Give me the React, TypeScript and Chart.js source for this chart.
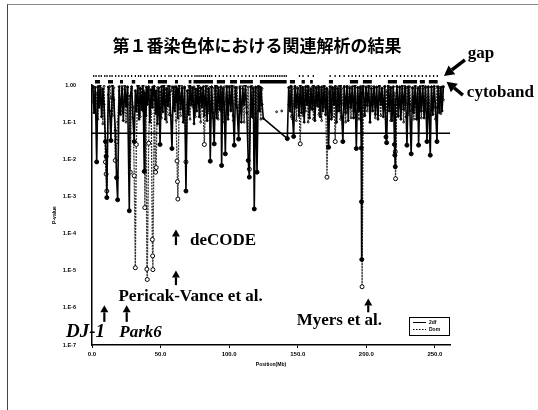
import React, { useEffect, useRef } from "react";
import { Chart, registerables } from "chart.js";

Chart.register(...registerables);

// ---------- text ----------
const titleText = "第１番染色体における関連解析の結果";
const xTitle = "Position(Mb)";
const yTitle = "P-value";
const seriesLabels = ["2df", "Dom"];

// ---------- axes ----------
const xMinMb = 0;
const xMaxMb = 261;
const xTickValues = [0, 50, 100, 150, 200, 250];
const yTickValues = [1e-7, 1e-6, 1e-5, 1e-4, 1e-3, 1e-2, 1e-1, 1];
const yTickLabels = ["1.E-7", "1.E-6", "1.E-5", "1.E-4", "1.E-3", "1.E-2", "1.E-1", "1.00"];
const thresholdP = 0.05;

// ---------- SNP positions (Mb) ----------
const positions = [
  0.6, 1.5, 2.4, 3.4, 4.3, 5.1, 6.0, 7.0, 7.9, 8.8,
  9.8, 10.3, 10.8, 11.9, 12.9, 13.8, 14.9, 15.9, 17.0, 17.9,
  18.7, 19.8, 20.8, 21.9, 22.8, 23.9, 24.8, 25.9, 27.2, 27.9,
  28.9, 29.9, 30.8, 31.6, 32.3, 33.3, 34.3, 35.2, 36.2, 37.2,
  38.1, 38.5, 39.3, 40.0, 40.3, 41.3, 42.2, 43.2, 44.0, 44.2,
  44.4, 45.4, 46.4, 46.8, 47.7, 48.7, 49.6, 50.6, 51.6, 52.5,
  53.5, 54.5, 55.4, 56.4, 57.4, 58.3, 59.3, 60.3, 61.3, 62.0,
  62.3, 62.6, 63.6, 64.6, 65.6, 66.5, 67.5, 68.5, 69.5, 70.5,
  71.5, 72.4, 73.4, 74.4, 75.4, 76.3, 77.3, 78.2, 79.2, 80.2,
  81.1, 81.9, 82.9, 83.9, 84.9, 85.8, 86.2, 87.2, 88.1, 89.1,
  90.0, 91.0, 92.0, 93.0, 94.0, 94.5, 95.4, 96.4, 97.2, 98.2,
  99.2, 100.2, 101.2, 102.1, 103.0, 103.7, 104.7, 105.7, 106.9, 107.9,
  108.9, 109.9, 110.9, 111.9, 112.9, 113.9, 114.7, 115.7, 116.7, 117.6,
  118.3, 119.3, 120.3, 121.3, 122.2, 123.1, 124.0, 124.9,
  134.6, 136.5, 138.3,
  142.4, 143.4, 144.4, 145.3, 146.3, 147.0, 148.0, 149.0, 149.9, 150.9,
  151.8, 152.8, 153.8, 154.7, 155.7, 156.7, 157.6, 158.6, 159.6, 160.6,
  161.5, 162.5, 163.5, 164.5, 165.4, 166.4, 167.4, 168.3, 169.3, 170.3,
  171.3, 172.5, 173.5, 174.5, 175.4, 176.4, 177.3, 178.3, 179.3, 180.2,
  181.2, 182.1, 182.9, 183.9, 184.9, 185.9, 186.8, 187.8, 188.8, 189.8,
  190.7, 191.7, 192.7, 193.7, 194.6, 195.6, 196.3, 196.5, 196.7, 196.9,
  197.8, 198.8, 199.8, 200.7, 201.7, 202.7, 203.7, 204.6, 205.6, 206.6,
  207.5, 208.5, 209.5, 210.5, 211.4, 212.4, 213.4, 214.3, 214.8, 215.8,
  216.8, 217.7, 218.7, 219.7, 220.5, 220.8, 221.1, 221.3, 222.3, 223.3,
  224.3, 225.2, 226.2, 227.2, 228.2, 229.1, 229.6, 230.6, 231.6, 232.7,
  233.7, 234.6, 235.6, 236.6, 237.5, 238.1, 239.1, 240.1, 241.1, 242.1,
  243.1, 244.2, 245.2, 246.6, 247.5, 248.5, 249.5, 250.4, 251.5, 252.3,
  253.3, 254.3, 255.2, 256.2,
];

// ---------- P-values, solid series (2df) ----------
const solidP = [
  0.92, 0.18, 0.85, 0.0085, 0.9, 0.25, 0.97, 0.14, 0.78, 0.3,
  0.03, 0.012, 0.00093, 0.88, 0.2, 0.032, 0.95, 0.4, 0.06, 0.0032,
  0.00081, 0.9, 0.16, 0.82, 0.11, 0.93, 0.27, 0.86, 0.00041, 0.5,
  0.9, 0.13, 0.03, 0.7, 0.2, 0.95, 0.12, 0.8, 0.22, 0.97,
  0.0047, 0.6, 0.15, 0.85, 0.3, 0.9, 0.1, 0.75, 0.25, 0.88,
  0.4, 0.92, 0.17, 0.7, 0.09, 0.84, 0.025, 0.9, 0.19, 0.96,
  0.12, 0.8, 0.28, 0.93, 0.15, 0.0195, 0.87, 0.2, 0.9, 0.35,
  0.8, 0.13, 0.95, 0.23, 0.82, 0.1, 0.88, 0.0014, 0.7, 0.16,
  0.94, 0.3, 0.85, 0.09, 0.78, 0.2, 0.97, 0.14, 0.83, 0.26,
  0.9, 0.15, 0.92, 0.11, 0.8, 0.3, 0.0089, 0.88, 0.18, 0.026,
  0.95, 0.13, 0.85, 0.22, 0.9, 0.0068, 0.8, 0.3, 0.014, 0.93,
  0.12, 0.87, 0.2, 0.96, 0.15, 0.024, 0.85, 0.25, 0.035, 0.9,
  0.1, 0.8, 0.3, 0.95, 0.18, 0.0093, 0.0033, 0.9, 0.14, 0.82,
  0.00046, 0.88, 0.0045, 0.92, 0.2, 0.85, 0.3, 0.126,
  null, null, null,
  0.036, 0.85, 0.2, 0.93, 0.12, 0.041, 0.9, 0.25, 0.8, 0.15,
  0.95, 0.18, 0.86, 0.1, 0.9, 0.3, 0.92, 0.13, 0.78, 0.22,
  0.96, 0.11, 0.84, 0.27, 0.9, 0.14, 0.88, 0.2, 0.94, 0.16,
  0.8, 0.021, 0.9, 0.12, 0.85, 0.3, 0.92, 0.1, 0.8, 0.2,
  0.95, 0.14, 0.03, 0.88, 0.18, 0.93, 0.11, 0.82, 0.25, 0.9,
  0.13, 0.96, 0.0195, 0.85, 0.2, 0.9, 0.02, 0.00072, 0.00002, 0.6,
  0.92, 0.15, 0.85, 0.28, 0.94, 0.1, 0.8, 0.2, 0.9, 0.16,
  0.87, 0.12, 0.95, 0.3, 0.82, 0.14, 0.9, 0.04, 0.028, 0.93,
  0.2, 0.85, 0.11, 0.9, 0.025, 0.0129, 0.0063, 0.3, 0.92, 0.15,
  0.86, 0.12, 0.95, 0.22, 0.88, 0.14, 0.024, 0.9, 0.3, 0.014,
  0.85, 0.18, 0.93, 0.12, 0.8, 0.024, 0.9, 0.2, 0.95, 0.13,
  0.85, 0.03, 0.9, 0.0129, 0.88, 0.16, 0.92, 0.25, 0.03, 0.9,
  0.18, 0.85, 0.2, 0.9,
];

// ---------- P-values, dotted series (Dom) ----------
const dottedP = [
  0.35, 0.88, 0.22, 0.6, 0.12, 0.95, 0.3, 0.8, 0.09, 0.92,
  0.0085, 0.004, 0.0014, 0.55, 0.9, 0.45, 0.15, 0.85, 0.0093, 0.03,
  0.1, 0.7, 0.2, 0.96, 0.18, 0.75, 0.1, 0.9, 0.3, 0.0045,
  0.8, 0.25, 0.0036, 0.000012, 0.025, 0.6, 0.93, 0.14, 0.85, 0.2,
  0.7, 0.0005, 0.9, 0.000011, 0.0000058, 0.027, 0.75, 0.17, 0.000069, 0.000025,
  0.0000107, 0.4, 0.0045, 0.006, 0.85, 0.2, 0.65, 0.13, 0.92, 0.3,
  0.8, 0.1, 0.95, 0.16, 0.7, 0.88, 0.24, 0.9, 0.11, 0.009,
  0.0025, 0.00085, 0.6, 0.15, 0.93, 0.2, 0.8, 0.0085, 0.3, 0.95,
  0.12, 0.85, 0.26, 0.9, 0.14, 0.77, 0.33, 0.92, 0.1, 0.8,
  0.2, 0.025, 0.7, 0.95, 0.18, 0.86, 0.25, 0.9, 0.13, 0.82,
  0.3, 0.93, 0.12, 0.8, 0.2, 0.6, 0.1, 0.9, 0.35, 0.85,
  0.16, 0.94, 0.22, 0.78, 0.11, 0.9, 0.3, 0.86, 0.14, 0.8,
  0.2, 0.95, 0.1, 0.75, 0.25, 0.88, 0.0054, 0.3, 0.92, 0.13,
  0.7, 0.17, 0.85, 0.2, 0.9, 0.12, 0.8, null,
  0.19, null, 0.2,
  null, 0.3, 0.9, 0.14, 0.8, 0.25, 0.93, 0.11, 0.85, 0.3,
  0.026, 0.9, 0.15, 0.75, 0.2, 0.95, 0.1, 0.82, 0.24, 0.9,
  0.12, 0.87, 0.3, 0.93, 0.16, 0.8, 0.11, 0.9, 0.25, 0.85,
  0.0033, 0.7, 0.2, 0.9, 0.14, 0.8, 0.03, 0.88, 0.2, 0.95,
  0.12, 0.8, 0.3, 0.92, 0.1, 0.85, 0.25, 0.9, 0.13, 0.78,
  0.2, 0.94, 0.3, 0.85, 0.12, 0.8, 0.25, 0.7, 0.9, 0.0000037,
  0.6, 0.15, 0.9, 0.2, 0.85, 0.1, 0.92, 0.3, 0.8, 0.13,
  0.88, 0.2, 0.9, 0.15, 0.8, 0.25, 0.93, 0.12, 0.7, 0.3,
  0.9, 0.11, 0.85, 0.2, 0.6, 0.4, 0.016, 0.003, 0.88, 0.14,
  0.9, 0.25, 0.8, 0.1, 0.92, 0.3, 0.85, 0.16, 0.9, 0.2,
  0.8, 0.12, 0.95, 0.25, 0.85, 0.3, 0.9, 0.13, 0.8, 0.2,
  0.92, 0.3, 0.85, 0.15, 0.9, 0.22, 0.8, 0.12, 0.9, 0.3,
  0.85, 0.17, 0.9, 0.4,
];

// ---------- cytoband bars (Mb) ----------
const cytobandStarts = [2.2, 11.7, 20.4, 29.0, 40.8, 48.0, 60.5, 70.5, 74.0, 91.0, 100.6, 107.9, 122.4, 144.3, 152.8, 159.0, 172.7, 188.0, 197.5, 215.7, 226.7, 239.0, 245.6];
const cytobandEnds = [5.8, 15.3, 22.6, 31.5, 44.5, 54.7, 62.7, 72.5, 88.2, 97.0, 105.7, 117.3, 141.9, 148.0, 155.2, 161.0, 175.7, 194.0, 204.0, 222.3, 237.0, 242.7, 252.0];

// ---------- gap marks (Mb) ----------
const gapMarks = [
  0.8, 2.5, 4.6, 6.3, 8.9, 10.5, 12.6, 14.2, 16.8, 19.1, 21.3, 23.8, 26.0, 28.4, 31.2, 33.5, 35.1, 37.9,
  40.2, 42.6, 45.0, 47.3, 50.1, 52.8, 55.6, 57.2, 59.9, 62.4, 64.8, 67.5, 69.7, 72.3, 74.6, 76.1, 77.6,
  79.1, 80.7, 82.2, 83.8, 85.3, 86.9, 89.6, 92.4, 95.2, 97.8, 100.5, 103.1, 106.2, 108.9, 111.7, 114.3,
  116.9, 119.4, 121.8, 123.5, 125.3, 126.9, 128.5, 130.1, 131.7, 133.3, 134.9, 136.5, 138.1, 139.7, 141.2,
  150.8, 153.4, 157.2, 160.9, 173.2, 176.8, 180.1, 183.4, 186.7, 189.2, 191.8, 194.5, 197.3, 200.6,
  203.2, 206.9, 209.4, 212.8, 215.1, 218.6, 221.9, 224.5, 227.3, 229.8, 232.6, 235.1, 237.8, 240.4,
  243.2, 245.9, 248.6, 251.3,
];

// ---------- annotations (data coordinates: Mb, P) ----------
const annotationTexts = [
  { text: "deCODE", x: 71.4, p: 6.6e-5, kind: "label" },
  { text: "Pericak-Vance et al.", x: 19.3, p: 2.0e-6, kind: "label" },
  { text: "Myers et al.", x: 149.2, p: 4.5e-7, kind: "label" },
  { text: "DJ-1", x: -19.0, p: 2.2e-7, kind: "gene" },
  { text: "Park6", x: 19.9, p: 2.2e-7, kind: "geneBold" },
  { text: "gap", x: 274.0, p: 6.85, kind: "label" },
  { text: "cytoband", x: 273.3, p: 0.61, kind: "label" },
];
const annotationArrows = [
  { x1: 61.2, p1: 4.9e-5, x2: 61.2, p2: 1.29e-4, kind: "small" },
  { x1: 61.2, p1: 4.1e-6, x2: 61.2, p2: 1.02e-5, kind: "small" },
  { x1: 9.0, p1: 4.2e-7, x2: 9.0, p2: 1.17e-6, kind: "small" },
  { x1: 25.3, p1: 4.2e-7, x2: 25.3, p2: 1.17e-6, kind: "small" },
  { x1: 201.4, p1: 7.6e-7, x2: 201.4, p2: 1.8e-6, kind: "small" },
  { x1: 271.9, p1: 4.72, x2: 256.6, p2: 1.75, kind: "big" },
  { x1: 270.4, p1: 0.537, x2: 258.5, p2: 1.23, kind: "big" },
];

const fonts: Record<string, string> = {
  label: "bold 17px 'Liberation Serif'",
  gene: "italic bold 19px 'Liberation Serif'",
  geneBold: "italic bold 17px 'Liberation Serif'",
};

function drawArrow(ctx: CanvasRenderingContext2D, x1: number, y1: number, x2: number, y2: number, big: boolean) {
  const dx = x2 - x1;
  const dy = y2 - y1;
  const len = Math.hypot(dx, dy);
  const ux = dx / len;
  const uy = dy / len;
  const headLen = big ? 10 : 7;
  const headHalf = big ? 5.5 : 4;
  const shaft = big ? 3.5 : 2.2;
  const bx = x2 - ux * headLen;
  const by = y2 - uy * headLen;
  ctx.beginPath();
  ctx.lineWidth = shaft;
  ctx.lineCap = "butt";
  ctx.moveTo(x1, y1);
  ctx.lineTo(bx, by);
  ctx.stroke();
  ctx.beginPath();
  ctx.moveTo(x2, y2);
  ctx.lineTo(bx - uy * headHalf, by + ux * headHalf);
  ctx.lineTo(bx + uy * headHalf, by - ux * headHalf);
  ctx.closePath();
  ctx.fill();
}

const overlayPlugin = {
  id: "overlay",
  afterDraw(chart: any) {
    const { ctx, chartArea } = chart;
    const xs = chart.scales.x;
    const ys = chart.scales.y;
    ctx.save();
    ctx.fillStyle = "#000";
    ctx.strokeStyle = "#000";
    // title
    ctx.font = "bold 17px 'Noto Sans CJK JP'";
    ctx.textAlign = "center";
    ctx.textBaseline = "middle";
    ctx.fillText(titleText, 257, 46);
    // annotation texts
    ctx.textAlign = "left";
    for (const a of annotationTexts) {
      ctx.font = fonts[a.kind];
      ctx.fillText(a.text, xs.getPixelForValue(a.x), ys.getPixelForValue(a.p));
    }
    // arrows
    for (const a of annotationArrows) {
      drawArrow(
        ctx,
        xs.getPixelForValue(a.x1),
        ys.getPixelForValue(a.p1),
        xs.getPixelForValue(a.x2),
        ys.getPixelForValue(a.p2),
        a.kind === "big"
      );
    }
    // legend box
    const w = 41;
    const h = 18;
    const lx = chartArea.right - w;
    const ly = chartArea.bottom - 10 - h;
    ctx.fillStyle = "#fff";
    ctx.fillRect(lx, ly, w, h);
    ctx.fillStyle = "#000";
    ctx.lineWidth = 1;
    ctx.setLineDash([]);
    ctx.strokeRect(lx + 0.5, ly + 0.5, w - 1, h);
    ctx.font = "bold 5px 'Liberation Sans'";
    ctx.textBaseline = "middle";
    ctx.beginPath();
    ctx.moveTo(lx + 4, ly + 5.5);
    ctx.lineTo(lx + 17, ly + 5.5);
    ctx.stroke();
    ctx.fillText(seriesLabels[0], lx + 20, ly + 5.5);
    ctx.beginPath();
    ctx.setLineDash([1.5, 1.5]);
    ctx.moveTo(lx + 4, ly + 12.5);
    ctx.lineTo(lx + 17, ly + 12.5);
    ctx.stroke();
    ctx.setLineDash([]);
    ctx.fillText(seriesLabels[1], lx + 20, ly + 12.5);
    ctx.restore();
  },
};

function buildSeries(values: (number | null)[]) {
  const n = Math.min(positions.length, values.length);
  const out: { x: number; y: number | null }[] = [];
  for (let i = 0; i < n; i++) out.push({ x: positions[i], y: values[i] });
  return out;
}

function buildSegments(starts: number[], ends: number[], row: number) {
  const out: { x: number; y: number | null }[] = [];
  for (let i = 0; i < starts.length; i++) {
    out.push({ x: starts[i], y: row });
    out.push({ x: ends[i], y: row });
    out.push({ x: ends[i], y: null });
  }
  return out;
}

const solidRadius = (ctx: any) => {
  const v = ctx.raw && ctx.raw.y;
  if (v == null) return 0;
  return v < thresholdP ? 2 : 1;
};
const dottedRadius = (ctx: any) => {
  const v = ctx.raw && ctx.raw.y;
  if (v == null) return 0;
  return v < thresholdP ? 2 : 0.9;
};

export default function App() {
  const canvasRef = useRef<HTMLCanvasElement | null>(null);

  useEffect(() => {
    if (!canvasRef.current) return;
    const gapRow = 2.1;
    const cytoRow = 0.75;
    const chart = new Chart(canvasRef.current, {
      type: "line",
      data: {
        datasets: [
          {
            label: "gap",
            data: buildSegments(gapMarks, gapMarks.map((m) => m + 0.9), gapRow),
            yAxisID: "band",
            borderColor: "#000",
            borderWidth: 2,
            pointRadius: 0,
            spanGaps: false,
            borderCapStyle: "butt",
          },
          {
            label: "cytoband",
            data: buildSegments(cytobandStarts, cytobandEnds, cytoRow),
            yAxisID: "band",
            borderColor: "#000",
            borderWidth: 3.5,
            pointRadius: 0,
            spanGaps: false,
            borderCapStyle: "butt",
          },
          {
            label: "threshold",
            data: [
              { x: xMinMb, y: thresholdP },
              { x: xMaxMb, y: thresholdP },
            ],
            yAxisID: "y",
            borderColor: "#000",
            borderWidth: 1.5,
            pointRadius: 0,
          },
          {
            label: seriesLabels[0],
            data: buildSeries(solidP),
            yAxisID: "y",
            borderColor: "#000",
            borderWidth: 1.6,
            pointRadius: solidRadius,
            pointBackgroundColor: "#000",
            pointBorderColor: "#000",
            pointBorderWidth: 1,
            spanGaps: true,
          },
          {
            label: seriesLabels[1],
            data: buildSeries(dottedP),
            yAxisID: "y",
            borderColor: "#333",
            borderWidth: 1.3,
            borderDash: [2, 1],
            pointRadius: dottedRadius,
            pointBackgroundColor: "#fff",
            pointBorderColor: "#000",
            pointBorderWidth: 1,
            spanGaps: false,
          },
        ],
      },
      options: {
        responsive: false,
        animation: false,
        events: [],
        layout: { padding: { left: 48, right: 88, top: 72, bottom: 35 } },
        plugins: {
          legend: { display: false },
          tooltip: { enabled: false },
          title: { display: false },
        },
        scales: {
          x: {
            type: "linear",
            position: "bottom",
            min: xMinMb,
            max: xMaxMb,
            afterBuildTicks: (s: any) => {
              s.ticks = xTickValues.map((v) => ({ value: v }));
            },
            afterFit: (s: any) => {
              s.height = 30;
            },
            ticks: {
              autoSkip: false,
              maxRotation: 0,
              padding: 3,
              color: "#000",
              font: { size: 6, weight: "bold", family: "'Liberation Sans'" },
              callback: (v: any) => Number(v).toFixed(1),
            },
            grid: { drawOnChartArea: false, tickLength: 3, color: "#000" },
            border: { color: "#000", width: 1.5 },
            title: {
              display: true,
              text: xTitle,
              color: "#000",
              font: { size: 5, weight: "bold", family: "'Liberation Sans'" },
              padding: { top: 0, bottom: 7 },
            },
          },
          y: {
            type: "logarithmic",
            position: "left",
            stack: "v",
            stackWeight: 260,
            min: 1e-7,
            max: 1,
            afterBuildTicks: (s: any) => {
              s.ticks = yTickValues.map((v) => ({ value: v }));
            },
            afterFit: (s: any) => {
              s.width = 44;
            },
            ticks: {
              autoSkip: false,
              padding: 8,
              color: "#000",
              font: { size: 5.5, weight: "bold", family: "'Liberation Sans'" },
              callback: (_v: any, i: number) => yTickLabels[i],
            },
            grid: { display: false },
            border: { color: "#000", width: 1.5 },
            title: {
              display: true,
              text: yTitle,
              color: "#000",
              font: { size: 5, weight: "bold", family: "'Liberation Sans'" },
              padding: { top: 4, bottom: 0 },
            },
          },
          band: {
            type: "linear",
            position: "left",
            stack: "v",
            stackWeight: 13,
            min: 0,
            max: 3,
            afterFit: (s: any) => {
              s.width = 0;
            },
            ticks: { display: false },
            grid: { display: false },
            border: { display: false },
          },
        },
      },
      plugins: [overlayPlugin],
    } as any);
    return () => chart.destroy();
  }, []);

  return (
    <div
      style={{
        position: "fixed",
        left: 0,
        top: 0,
        width: 538,
        height: 410,
        background: "#fff",
        overflow: "hidden",
      }}
    >
      <div
        style={{
          position: "absolute",
          left: 7,
          top: 4,
          width: 540,
          height: 420,
          borderLeft: "1px solid #444",
          borderTop: "1px solid #888",
          boxSizing: "border-box",
        }}
      />
      <canvas ref={canvasRef} width={538} height={410} style={{ position: "absolute", left: 0, top: 0 }} />
    </div>
  );
}
